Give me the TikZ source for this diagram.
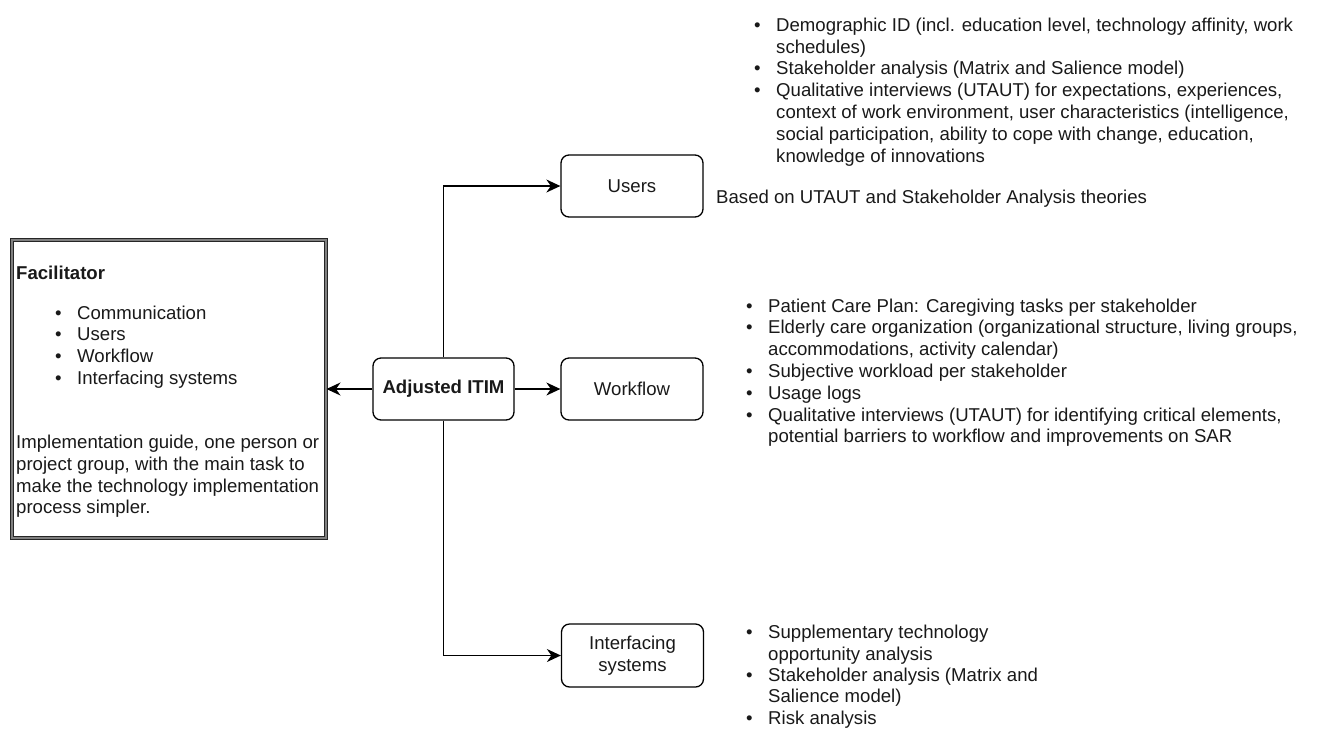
\documentclass[tikz,border=0pt]{standalone}
\usepackage{fontspec}
\setmainfont{Liberation Sans}
\usetikzlibrary{arrows.meta}
\newcommand{\bul}{\makebox[22pt][l]{\textbullet}}
\newcommand{\cnt}{\makebox[22pt]{}}
\begin{document}
\begin{tikzpicture}[x=1pt,y=-1pt,
  basefont/.style={font=\fontsize{18.6}{21.8}\selectfont},
  every node/.style={basefont, inner sep=0pt, text=black!90},
  box/.style={draw, rounded corners=8pt, line width=1.3pt, minimum width=142pt, minimum height=62pt, align=center},
  txt/.style={align=left, anchor=north west},
  conn/.style={line width=1.3pt, -{Stealth[length=14pt,width=13pt,inset=4.5pt]}}]
\useasboundingbox (0,0) rectangle (1319,729);

% Facilitator box
\node[draw=black!85, double=black!50, double distance=1.4pt, line width=1pt,
      minimum width=314pt, minimum height=298pt] (fac) at (169,389) {};
\node[txt] (factxt) at (16,263.7) {\strut\textbf{Facilitator}\\[18.2pt]
\hspace*{39pt}\bul Communication\\
\hspace*{39pt}\bul Users\\
\hspace*{39pt}\bul Workflow\\
\hspace*{39pt}\bul Interfacing systems\\[42.2pt]
Implementation guide, one person or\\
project group, with the main task to\\
make the technology implementation\\
process simpler.};

% central boxes
\node[box, minimum width=141pt, font=\fontsize{18.6}{21.8}\selectfont\bfseries] (itim) at (443.5,389) {Adjusted ITIM};
\node[box] (users) at (632,186) {Users};
\node[box] (wf) at (632,389) {Workflow};
\node[box, minimum height=63pt] (intf) at (632.5,655.5) {Interfacing\\systems};

% connectors
\draw[conn] (itim.west) -- (fac.east);
\draw[conn] (itim.east) -- (wf.west);
\draw[conn] (itim.north) |- (users.west);
\draw[conn] (itim.south) |- (intf.west);

% descriptions
\node[txt] (usertxt) at (754,15.74) {\strut\bul Demographic ID (incl. education level, technology affinity, work\\
\cnt schedules)\\
\bul Stakeholder analysis (Matrix and Salience model)\\
\bul Qualitative interviews (UTAUT) for expectations, experiences,\\
\cnt context of work environment, user characteristics (intelligence,\\
\cnt social participation, ability to cope with change, education,\\
\cnt knowledge of innovations};

\node[anchor=base west] (based) at (716,203) {Based on UTAUT and Stakeholder Analysis theories};

\node[txt] (wftxt) at (746,296.7) {\strut\bul Patient Care Plan: Caregiving tasks per stakeholder\\
\bul Elderly care organization (organizational structure, living groups,\\
\cnt accommodations, activity calendar)\\
\bul Subjective workload per stakeholder\\
\bul Usage logs\\
\bul Qualitative interviews (UTAUT) for identifying critical elements,\\
\cnt potential barriers to workflow and improvements on SAR};

\node[txt, font=\fontsize{18.6}{21.3}\selectfont] (intftxt) at (746,623.7) {\strut\bul Supplementary technology\\
\cnt opportunity analysis\\
\bul Stakeholder analysis (Matrix and\\
\cnt Salience model)\\
\bul Risk analysis};
\end{tikzpicture}
\end{document}
